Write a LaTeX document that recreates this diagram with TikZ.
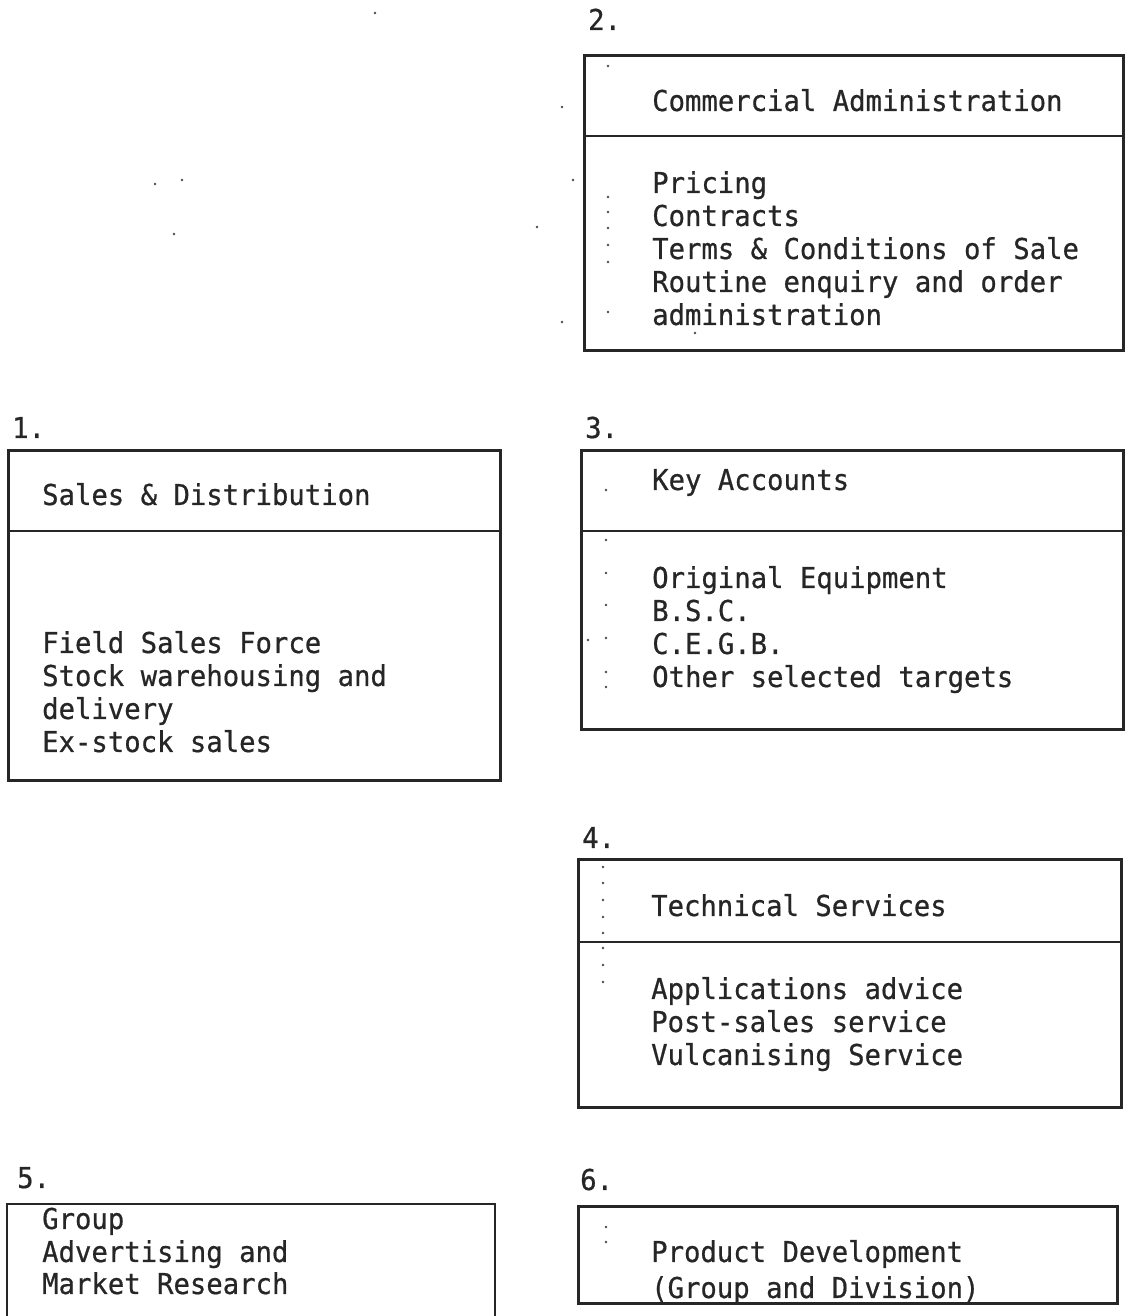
\documentclass[tikz,border=0pt]{standalone}
\usepackage{fontspec}
\newfontfamily\tw[FakeStretch=0.95,FakeBold=0.6]{DejaVu Sans Mono}
\begin{document}
\begin{tikzpicture}[x=1pt,y=1pt,
  boxline/.style={line width=2.8pt, black!85},
  frame/.style={draw, boxline, rectangle, inner sep=0pt, anchor=north west},
  txt/.style={anchor=base west, inner sep=0pt, font=\tw\fontsize{28.7}{33}\selectfont, text=black!85},
  speck/.style={fill=black!70, draw=none}]
\useasboundingbox (0,0) rectangle (1124,1316);
\fill[white] (0,0) rectangle (1124,1316);

% ---------- Box 2 ----------
\node[txt] (l2) at (588,1286) {2.};
\node[frame, minimum width=539pt, minimum height=295pt] (b2) at (583,1262) {};
\coordinate (d2) at (583,1180);
\draw[boxline] (d2) -- (d2 -| b2.east);
\node[txt] (h2) at (652,1205) {Commercial Administration};
\node[txt] (t2a) at (652,1123) {Pricing};
\node[txt] (t2b) at (652,1090) {Contracts};
\node[txt] (t2c) at (652,1057) {Terms \& Conditions of Sale};
\node[txt] (t2d) at (652,1024) {Routine enquiry and order};
\node[txt] (t2e) at (652,991) {administration};

% ---------- Box 1 ----------
\node[txt] (l1) at (12,878) {1.};
\node[frame, minimum width=492pt, minimum height=330pt] (b1) at (7,867) {};
\coordinate (d1) at (7,785);
\draw[boxline] (d1) -- (d1 -| b1.east);
\node[txt] (h1) at (42,811) {Sales \& Distribution};
\node[txt] (t1a) at (42,663) {Field Sales Force};
\node[txt] (t1b) at (42,630) {Stock warehousing and};
\node[txt] (t1c) at (42,597) {delivery};
\node[txt] (t1d) at (42,564) {Ex-stock sales};

% ---------- Box 3 ----------
\node[txt] (l3) at (585,878) {3.};
\node[frame, minimum width=542pt, minimum height=279pt] (b3) at (580,867) {};
\coordinate (d3) at (580,785);
\draw[boxline] (d3) -- (d3 -| b3.east);
\node[txt] (h3) at (652,826) {Key Accounts};
\node[txt] (t3a) at (652,728) {Original Equipment};
\node[txt] (t3b) at (652,695) {B.S.C.};
\node[txt] (t3c) at (652,662) {C.E.G.B.};
\node[txt] (t3d) at (652,629) {Other selected targets};

% ---------- Box 4 ----------
\node[txt] (l4) at (582,468) {4.};
\node[frame, minimum width=543pt, minimum height=248pt] (b4) at (577,458) {};
\coordinate (d4) at (577,374);
\draw[boxline] (d4) -- (d4 -| b4.east);
\node[txt] (h4) at (651,400) {Technical Services};
\node[txt] (t4a) at (651,317) {Applications advice};
\node[txt] (t4b) at (651,284) {Post-sales service};
\node[txt] (t4c) at (651,251) {Vulcanising Service};

% ---------- Box 5 (open at the bottom edge) ----------
\node[txt] (l5) at (17,128) {5.};
\coordinate (c5a) at (7,-5);
\coordinate (c5b) at (7,112);
\coordinate (c5c) at (495,112);
\coordinate (c5d) at (495,-5);
\draw[boxline] (c5a) -- (c5b) -- (c5c) -- (c5d);
\node[txt] (t5a) at (42,87) {Group};
\node[txt] (t5b) at (42,54) {Advertising and};
\node[txt] (t5c) at (42,22) {Market Research};

% ---------- Box 6 ----------
\node[txt] (l6) at (580,126) {6.};
\node[txt] (t6a) at (651,54) {Product Development};
\node[txt] (t6b) at (651,18) {(Group and Division)};
\node[frame, minimum width=539pt, minimum height=97pt] (b6) at (577,111) {};

% ---------- specks of the scan ----------
\foreach \y in {66,197,212,228,245,262,312} \fill[speck] (608,1316-\y) circle (1.4pt);
\fill[speck] (695,1316-333) circle (1.3pt);
\foreach \y in {490,540,573,605,638,672,687} \fill[speck] (606,1316-\y) circle (1.4pt);
\fill[speck] (588,1316-640) circle (1.3pt);
\foreach \y in {867,883,900,917,933,948,965,982} \fill[speck] (603,1316-\y) circle (1.3pt);
\foreach \y in {1227,1242} \fill[speck] (606,1316-\y) circle (1.3pt);
\foreach \p in {(375,1303),(155,1132),(174,1082),(537,1089),(562,1209),(562,994),(182,1136),(573,1136)}
  \fill[speck] \p circle (1.3pt);
\end{tikzpicture}
\end{document}
